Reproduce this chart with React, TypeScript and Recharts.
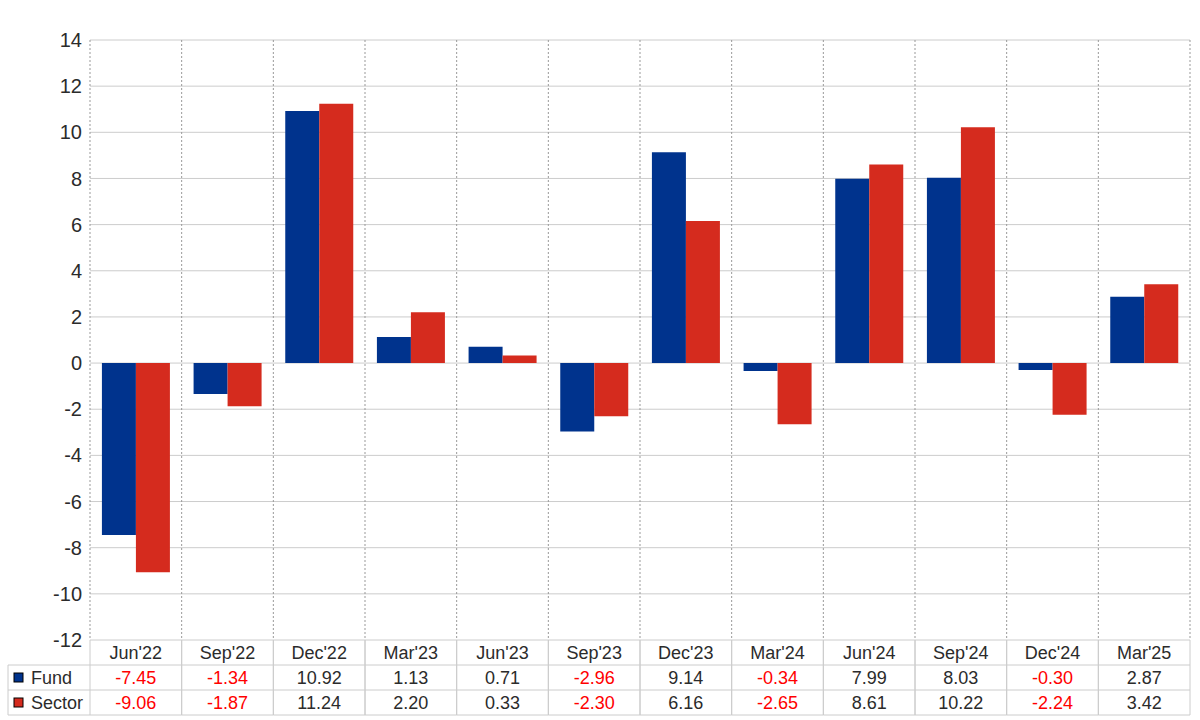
import React from 'react';
import { BarChart, Bar, XAxis, YAxis, CartesianGrid } from 'recharts';

const categories = ["Jun'22", "Sep'22", "Dec'22", "Mar'23", "Jun'23", "Sep'23", "Dec'23", "Mar'24", "Jun'24", "Sep'24", "Dec'24", "Mar'25"];
const fundValues = [-7.45, -1.34, 10.92, 1.13, 0.71, -2.96, 9.14, -0.34, 7.99, 8.03, -0.3, 2.87];
const sectorValues = [-9.06, -1.87, 11.24, 2.2, 0.33, -2.3, 6.16, -2.65, 8.61, 10.22, -2.24, 3.42];
const yTicks = [-12, -10, -8, -6, -4, -2, 0, 2, 4, 6, 8, 10, 12, 14];
const seriesNames = ['Fund', 'Sector'];

const FUND_COLOR = '#00338D';
const SECTOR_COLOR = '#D52B1E';
const FONT = '"Liberation Sans", Arial, sans-serif';

const WIDTH = 1200;
const HEIGHT = 720;
const MARGIN = { top: 40, right: 10, bottom: 0, left: 0 };
const Y_AXIS_W = 90;
const X_AXIS_H = 80;
const PLOT_W = WIDTH - MARGIN.left - MARGIN.right - Y_AXIS_W;
const BAND = PLOT_W / categories.length;
const TABLE_LEFT = 8;
const ROW_H = 25;
const GRID_LINE = '#cccccc';
const TEXT = '#2b2b2b';

const data = categories.map((c, i) => ({ name: c, fund: fundValues[i], sector: sectorValues[i] }));

const fmt = (v: number) => v.toFixed(2);
const valColor = (v: number) => (v < 0 ? '#ff0000' : TEXT);

const TableTick = (props: any) => {
  const { x, y, payload } = props;
  const idx = payload.index;
  const top = y;
  const left = x - BAND / 2;
  const right = x + BAND / 2;
  const rows = [fundValues[idx], sectorValues[idx]];
  return (
    <g>
      <line x1={left} x2={left} y1={top} y2={top + ROW_H * 3} stroke={GRID_LINE} />
      <line x1={right} x2={right} y1={top} y2={top + ROW_H * 3} stroke={GRID_LINE} />
      {[1, 2, 3].map((r) => (
        <line key={r} x1={left} x2={right} y1={top + ROW_H * r} y2={top + ROW_H * r} stroke={GRID_LINE} />
      ))}
      <text x={x} y={top + ROW_H / 2} textAnchor="middle" dominantBaseline="central" fontSize={18} fill={TEXT} fontFamily={FONT}>
        {payload.value}
      </text>
      {rows.map((v, r) => (
        <text key={r} x={x} y={top + ROW_H * (r + 1) + ROW_H / 2} textAnchor="middle" dominantBaseline="central" fontSize={18} fill={valColor(v)} fontFamily={FONT}>
          {fmt(v)}
        </text>
      ))}
      {idx === 0 && (
        <g>
          <line x1={TABLE_LEFT} x2={TABLE_LEFT} y1={top + ROW_H} y2={top + ROW_H * 3} stroke={GRID_LINE} />
          {[1, 2, 3].map((r) => (
            <line key={r} x1={TABLE_LEFT} x2={left} y1={top + ROW_H * r} y2={top + ROW_H * r} stroke={GRID_LINE} />
          ))}
          {seriesNames.map((n, r) => (
            <g key={n}>
              <rect x={TABLE_LEFT + 6} y={top + ROW_H * (r + 1) + ROW_H / 2 - 4.5} width={9} height={9} fill={r === 0 ? FUND_COLOR : SECTOR_COLOR} stroke="#000" strokeWidth={1} />
              <text x={TABLE_LEFT + 23} y={top + ROW_H * (r + 1) + ROW_H / 2} dominantBaseline="central" fontSize={18} fill={TEXT} fontFamily={FONT}>
                {n}
              </text>
            </g>
          ))}
        </g>
      )}
    </g>
  );
};

const verticalGen = ({ offset }: any) => {
  const res: number[] = [];
  for (let i = 0; i <= categories.length; i++) res.push(offset.left + (i * offset.width) / categories.length);
  return res;
};

export default function App() {
  return (
    <div style={{ position: 'absolute', left: 0, top: 0, width: WIDTH, height: HEIGHT, background: '#fff' }}>
      <BarChart width={WIDTH} height={HEIGHT} data={data} margin={MARGIN} barCategoryGap="13%" barGap={0}>
        <CartesianGrid vertical={false} stroke={GRID_LINE} />
        <CartesianGrid horizontal={false} stroke="#999" strokeDasharray="2 2" verticalCoordinatesGenerator={verticalGen} />
        <XAxis
          dataKey="name"
          height={X_AXIS_H}
          tickLine={false}
          axisLine={false}
          tickSize={0}
          tickMargin={0}
          interval={0}
          tick={<TableTick />}
        />
        <YAxis
          width={Y_AXIS_W}
          domain={[-12, 14]}
          ticks={yTicks}
          type="number"
          allowDataOverflow
          tickLine={false}
          axisLine={false}
          tickSize={0}
          tickMargin={8}
          tick={{ fontSize: 20, fill: TEXT, fontFamily: FONT }}
        />
        <Bar dataKey="fund" fill={FUND_COLOR} isAnimationActive={false} />
        <Bar dataKey="sector" fill={SECTOR_COLOR} isAnimationActive={false} />
      </BarChart>
    </div>
  );
}
